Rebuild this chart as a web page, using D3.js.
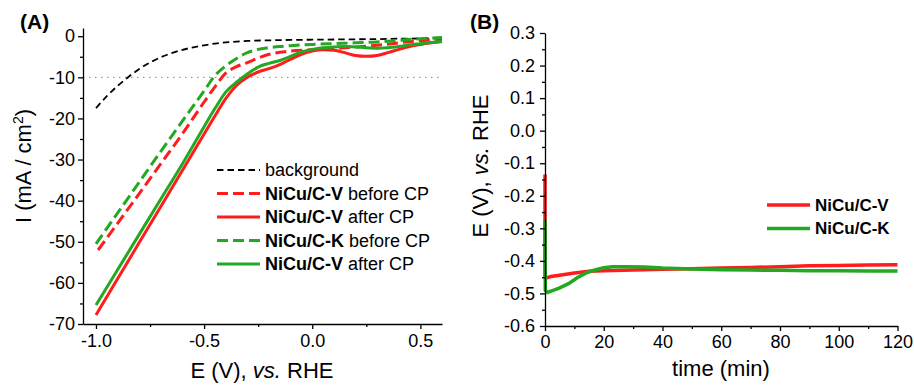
<!DOCTYPE html>
<html>
<head>
<meta charset="utf-8">
<script src="https://cdn.jsdelivr.net/npm/d3@7"></script>
<style>
  body { margin: 0; background: #fff; }
  text { font-family: "Liberation Sans", Arial, sans-serif; }
</style>
</head>
<body>
<svg id="chart" width="914" height="385"></svg>
<script>
// ---- data, panel A (LSV curves) ----
var bgE = [-1.0, -0.95, -0.9, -0.85, -0.8, -0.75, -0.7, -0.65, -0.6, -0.55, -0.5, -0.45, -0.4, -0.35, -0.3, -0.2, -0.1, 0.0, 0.1, 0.2, 0.3, 0.4, 0.5, 0.6];
var bgI = [-17.5, -14.6, -12.1, -9.9, -8.0, -6.4, -5.1, -4.1, -3.3, -2.7, -2.2, -1.8, -1.5, -1.3, -1.15, -1.0, -0.9, -0.85, -0.8, -0.75, -0.7, -0.6, -0.55, -0.5];

var beforeE = [-1.0, -0.9, -0.8, -0.7, -0.6, -0.5, -0.45, -0.4, -0.35, -0.3, -0.25, -0.2, -0.15, -0.1, 0.0, 0.1, 0.2, 0.3, 0.4, 0.5, 0.6];
var kBeforeI = [-50.5, -43.0, -35.5, -28.0, -20.6, -13.3, -9.6, -7.2, -5.4, -4.0, -3.2, -2.8, -2.5, -2.3, -2.0, -1.8, -1.6, -1.4, -1.0, -0.6, -0.3];
var vBeforeE = [-0.99, -0.9, -0.8, -0.7, -0.6, -0.5, -0.45, -0.4, -0.35, -0.3, -0.25, -0.2, -0.15, -0.1, 0.0, 0.1, 0.2, 0.3, 0.4, 0.5, 0.6];
var vBeforeI = [-52.0, -45.5, -38.3, -31.0, -23.7, -16.0, -12.3, -9.0, -7.4, -6.4, -5.3, -4.4, -3.9, -3.6, -3.3, -3.0, -2.6, -2.2, -1.6, -1.1, -0.7];

var afterE = [-1.0, -0.9, -0.8, -0.7, -0.6, -0.5, -0.45, -0.4, -0.35, -0.3, -0.25, -0.2, -0.15, -0.1, -0.05, 0.0, 0.05, 0.1, 0.15, 0.2, 0.25, 0.3, 0.35, 0.4, 0.45, 0.5, 0.55, 0.6];
var vAfterI = [-67.8, -59.0, -50.2, -41.4, -32.6, -23.8, -19.4, -15.2, -12.0, -10.0, -8.7, -7.9, -6.9, -5.6, -4.4, -3.6, -3.3, -3.4, -4.0, -4.7, -4.9, -4.7, -4.0, -3.2, -2.5, -2.0, -1.6, -1.3];
var kAfterI = [-65.4, -56.8, -48.2, -39.6, -31.0, -22.0, -17.6, -13.6, -11.2, -9.2, -7.5, -6.6, -5.9, -4.9, -3.8, -3.2, -2.8, -2.6, -2.5, -2.6, -2.8, -2.9, -2.8, -2.5, -2.1, -1.8, -1.5, -1.3];

var xTicksA = [-1.0, -0.5, 0.0, 0.5];
var yTicksA = [0, -10, -20, -30, -40, -50, -60, -70];

// ---- data, panel B (chronopotentiometry) ----
var vTime = [0, 0, 0.5, 2, 5, 10, 15, 20, 30, 40, 50, 60, 70, 80, 90, 100, 110, 120];
var vPot = [-0.135, -0.45, -0.452, -0.448, -0.444, -0.437, -0.432, -0.430, -0.428, -0.426, -0.424, -0.422, -0.420, -0.418, -0.415, -0.414, -0.413, -0.412];
var kTime = [0, 0.1, 0.8, 3, 5, 8, 11, 14, 17, 20, 23, 28, 34, 40, 50, 60, 70, 80, 90, 100, 110, 120];
var kPot = [-0.275, -0.49, -0.497, -0.49, -0.483, -0.47, -0.452, -0.437, -0.428, -0.421, -0.418, -0.418, -0.419, -0.422, -0.425, -0.427, -0.428, -0.429, -0.430, -0.430, -0.431, -0.431];

var xTicksB = [0, 20, 40, 60, 80, 100, 120];
var yTicksB = [0.3, 0.2, 0.1, 0.0, -0.1, -0.2, -0.3, -0.4, -0.5, -0.6];

var red = "#ff1c1c", green = "#22a822";
var svg = d3.select("#chart");

function zip(a, b) { return a.map(function(v, i) { return [v, b[i]]; }); }
function hy(s) { return s.replace("\u2212", "-"); }

function styleAxis(g, size) {
    g.selectAll("path, line").attr("stroke", "#000").attr("stroke-width", 1.3);
    g.selectAll("text").attr("font-family", "Liberation Sans, Arial, sans-serif")
        .attr("font-size", size).attr("fill", "#000");
}

// ================= panel A =================
var xA = d3.scaleLinear().domain([-1.06, 0.6]).range([83, 442]);
var yA = d3.scaleLinear().domain([-70, 2]).range([324, 28]);

// dotted -10 reference line
svg.append("line")
    .attr("x1", xA.range()[0]).attr("x2", xA.range()[1])
    .attr("y1", yA(-10)).attr("y2", yA(-10))
    .attr("stroke", "#9a9a9a").attr("stroke-width", 1.2)
    .attr("stroke-dasharray", "1.5,4.5");

var lineA = d3.line()
    .x(function(d) { return xA(d[0]); })
    .y(function(d) { return yA(d[1]); })
    .curve(d3.curveMonotoneX);

var seriesA = [
    {pts: zip(bgE, bgI), color: "#000", width: 1.8, dash: "6.5,4"},
    {pts: zip(vBeforeE, vBeforeI), color: red, width: 3, dash: "11,5"},
    {pts: zip(beforeE, kBeforeI), color: green, width: 3, dash: "11,5"},
    {pts: zip(afterE, vAfterI), color: red, width: 3, dash: null},
    {pts: zip(afterE, kAfterI), color: green, width: 3, dash: null}
];

seriesA.forEach(function(s) {
    svg.append("path")
        .datum(s.pts)
        .attr("d", lineA)
        .attr("fill", "none")
        .attr("stroke", s.color)
        .attr("stroke-width", s.width)
        .attr("stroke-dasharray", s.dash);
});

// axes A
svg.append("g").attr("transform", "translate(0,324)")
    .call(d3.axisBottom(xA).tickValues(xTicksA).tickSize(5).tickPadding(5).tickSizeOuter(0)
        .tickFormat(function(d) { return hy(d3.format(".1f")(d)); }))
    .call(styleAxis, 18);
svg.append("g").attr("transform", "translate(0,324)")
    .call(d3.axisBottom(xA).tickValues([-0.75, -0.25, 0.25]).tickSize(3).tickFormat(""))
    .call(function(g) { g.select(".domain").remove(); })
    .call(styleAxis, 18);
svg.append("g").attr("transform", "translate(83,0)")
    .call(d3.axisLeft(yA).tickValues(yTicksA).tickSize(5).tickPadding(3).tickSizeOuter(0)
        .tickFormat(function(d) { return hy(String(d)); }))
    .call(styleAxis, 18);
svg.append("g").attr("transform", "translate(83,0)")
    .call(d3.axisLeft(yA).tickValues([-5, -15, -25, -35, -45, -55, -65]).tickSize(3).tickFormat(""))
    .call(function(g) { g.select(".domain").remove(); })
    .call(styleAxis, 18);

// legend A
var legendA = [
    {bold: "", rest: "background", color: "#000", width: 1.8, dash: "6.5,4"},
    {bold: "NiCu/C-V", rest: " before CP", color: red, width: 3, dash: "11,5"},
    {bold: "NiCu/C-V", rest: " after CP", color: red, width: 3, dash: null},
    {bold: "NiCu/C-K", rest: " before CP", color: green, width: 3, dash: "11,5"},
    {bold: "NiCu/C-V", rest: " after CP", color: green, width: 3, dash: null}
];
var legA = svg.append("g").selectAll("g")
    .data(legendA).enter().append("g")
    .attr("transform", function(d, i) { return "translate(217," + (170 + i * 23.5) + ")"; });
legA.append("line")
    .attr("x1", 0).attr("x2", 43)
    .attr("stroke", function(d) { return d.color; })
    .attr("stroke-width", function(d) { return d.width; })
    .attr("stroke-dasharray", function(d) { return d.dash; });
var legAText = legA.append("text")
    .attr("x", 48).attr("dy", "0.35em")
    .attr("font-size", 18)
    .style("white-space", "pre");
legAText.append("tspan").attr("font-weight", "bold").text(function(d) { return d.bold; });
legAText.append("tspan").text(function(d) { return d.rest; });

// titles A
var xtA = svg.append("text").attr("x", 262).attr("y", 378)
    .attr("text-anchor", "middle").attr("font-size", 22).style("white-space", "pre");
xtA.append("tspan").text("E (V), ");
xtA.append("tspan").attr("font-style", "italic").text("vs.");
xtA.append("tspan").text(" RHE");

var ytA = svg.append("text").attr("transform", "translate(31,166) rotate(-90)")
    .attr("text-anchor", "middle").attr("font-size", 22).style("white-space", "pre");
ytA.append("tspan").text("I (mA / cm");
ytA.append("tspan").attr("font-size", 14).attr("dy", -8).text("2");
ytA.append("tspan").attr("dy", 8).text(")");

svg.append("text").attr("x", 20).attr("y", 29)
    .attr("font-size", 21).attr("font-weight", "bold").text("(A)");

// ================= panel B =================
var xB = d3.scaleLinear().domain([0, 120]).range([545, 897.5]);
var yB = d3.scaleLinear().domain([-0.6, 0.3]).range([326, 33]);

var lineB = d3.line()
    .x(function(d) { return xB(d[0]); })
    .y(function(d) { return yB(d[1]); });

svg.append("path").datum(zip(vTime, vPot)).attr("d", lineB)
    .attr("fill", "none").attr("stroke", red).attr("stroke-width", 3.5);
svg.append("path").datum(zip(kTime, kPot)).attr("d", lineB)
    .attr("fill", "none").attr("stroke", green).attr("stroke-width", 3.5);

svg.append("g").attr("transform", "translate(0,326)")
    .call(d3.axisBottom(xB).tickValues(xTicksB).tickSize(5).tickPadding(4).tickSizeOuter(0))
    .call(styleAxis, 18);
svg.append("g").attr("transform", "translate(0,326)")
    .call(d3.axisBottom(xB).tickValues([10, 30, 50, 70, 90, 110]).tickSize(3).tickFormat(""))
    .call(function(g) { g.select(".domain").remove(); })
    .call(styleAxis, 18);
svg.append("g").attr("transform", "translate(545,0)")
    .call(d3.axisLeft(yB).tickValues(yTicksB).tickSize(5).tickPadding(5).tickSizeOuter(0)
        .tickFormat(function(d) { return hy(d3.format(".1f")(d)); }))
    .call(styleAxis, 18);
svg.append("g").attr("transform", "translate(545,0)")
    .call(d3.axisLeft(yB).tickValues([0.25, 0.15, 0.05, -0.05, -0.15, -0.25, -0.35, -0.45, -0.55]).tickSize(3).tickFormat(""))
    .call(function(g) { g.select(".domain").remove(); })
    .call(styleAxis, 18);

// legend B
var legendB = [
    {label: "NiCu/C-V", color: red},
    {label: "NiCu/C-K", color: green}
];
var legB = svg.append("g").selectAll("g")
    .data(legendB).enter().append("g")
    .attr("transform", function(d, i) { return "translate(767," + (205 + i * 23.5) + ")"; });
legB.append("line").attr("x1", 0).attr("x2", 43)
    .attr("stroke", function(d) { return d.color; }).attr("stroke-width", 3.5);
legB.append("text").attr("x", 48).attr("dy", "0.35em")
    .attr("font-size", 17).attr("font-weight", "bold")
    .text(function(d) { return d.label; });

// titles B
svg.append("text").attr("x", 721).attr("y", 376)
    .attr("text-anchor", "middle").attr("font-size", 22).text("time (min)");

var ytB = svg.append("text").attr("transform", "translate(488,166) rotate(-90)")
    .attr("text-anchor", "middle").attr("font-size", 22).style("white-space", "pre");
ytB.append("tspan").text("E (V), ");
ytB.append("tspan").attr("font-style", "italic").text("vs.");
ytB.append("tspan").text(" RHE");

svg.append("text").attr("x", 470).attr("y", 29)
    .attr("font-size", 21).attr("font-weight", "bold").text("(B)");
</script>
</body>
</html>
